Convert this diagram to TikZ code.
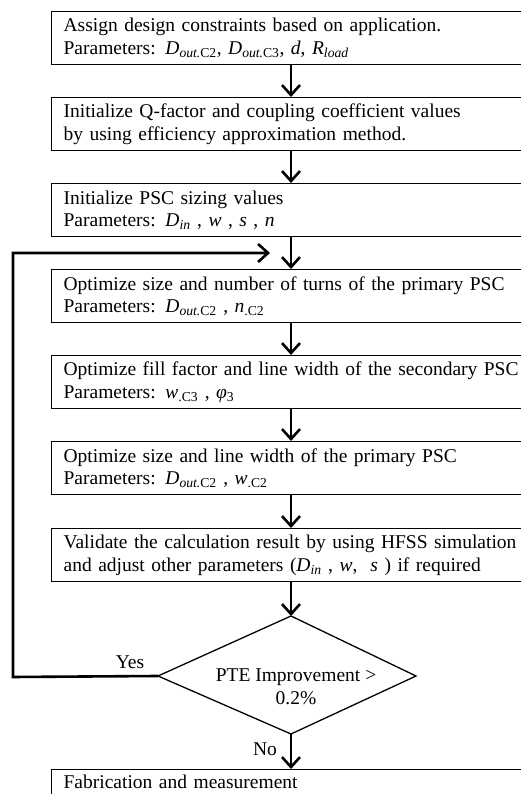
\documentclass[tikz,border=0pt]{standalone}
\usepackage{fontspec}
\setmainfont{Liberation Serif}
\usetikzlibrary{arrows.meta}
\newcommand\vr[1]{\textit{#1}}
\newcommand\sbx[1]{\textsubscript{#1}}
\begin{document}
\begin{tikzpicture}[x=1pt,y=1pt,
  box/.style={draw,line width=1.3pt,anchor=north west,minimum height=53pt,
    text width=500pt,inner xsep=12pt,inner ysep=0pt,align=left,
    font=\fontsize{19.5}{22.5}\selectfont},
  arr/.style={line width=2.6pt,-{Straight Barb[length=10pt,width=18pt,line width=2.6pt]}},
  lbl/.style={font=\fontsize{19.5}{22.5}\selectfont,inner sep=0pt}]
\useasboundingbox (0,0) rectangle (521,794);
\clip (0,0) rectangle (521,794);
\node[box] (b1) at (51,783) {Assign design constraints based on application.\\
Parameters: \vr{D}\sbx{\vr{out.}C2}, \vr{D}\sbx{\vr{out.}C3}, \vr{d}, \vr{R}\sbx{\vr{load}}};
\node[box] (b2) at (51,697) {Initialize Q-factor and coupling coefficient values\\
by using efficiency approximation method.};
\node[box] (b3) at (51,611) {Initialize PSC sizing values\\
Parameters: \vr{D}\sbx{\vr{in}} , \vr{w} , \vr{s} , \vr{n}};
\node[box] (b4) at (51,525) {Optimize size and number of turns of the primary PSC\\
Parameters: \vr{D}\sbx{\vr{out.}C2} , \vr{n}\sbx{.C2}};
\node[box] (b5) at (51,439) {Optimize fill factor and line width of the secondary PSC\\
Parameters: \vr{w}\sbx{.C3} , \vr{φ}\sbx{3}};
\node[box] (b6) at (51,353) {Optimize size and line width of the primary PSC\\
Parameters: \vr{D}\sbx{\vr{out.}C2} , \vr{w}\sbx{.C2}};
\node[box] (b7) at (51,266) {Validate the calculation result by using HFSS simulation\\
and adjust other parameters (\vr{D}\sbx{\vr{in}} , \vr{w}, \ \vr{s} ) if required};
\coordinate (dtop) at (291,178);
\coordinate (dright) at (416,118);
\coordinate (dbot) at (291,60);
\coordinate (dleft) at (158,118);
\draw[line width=1.3pt] (dtop) -- (dright) -- (dbot) -- (dleft) -- cycle;
\node[align=center,font=\fontsize{19.5}{22.5}\selectfont,inner sep=0pt] (dia) at (296,107) {PTE Improvement >\\0.2\%};
\node[box,anchor=north west] (b8) at (51,25) {Fabrication and measurement\\ \strut};
\coordinate (loopend) at (270,541);
\draw[arr] (b1.south -| 291,0) -- (b2.north -| 291,0);
\draw[arr] (b2.south -| 291,0) -- (b3.north -| 291,0);
\draw[arr] (b3.south -| 291,0) -- (b4.north -| 291,0);
\draw[arr] (b4.south -| 291,0) -- (b5.north -| 291,0);
\draw[arr] (b5.south -| 291,0) -- (b6.north -| 291,0);
\draw[arr] (b6.south -| 291,0) -- (b7.north -| 291,0);
\draw[arr] (b7.south -| 291,0) -- (dtop);
\draw[arr] (dbot) -- (b8.north -| 291,0);
\draw[arr] (dleft) -- (13,117) -- (13,541) -- (loopend);
\node[lbl] (yes) at (130,132) {Yes};
\node[lbl] (no) at (265,45) {No};
\end{tikzpicture}
\end{document}
